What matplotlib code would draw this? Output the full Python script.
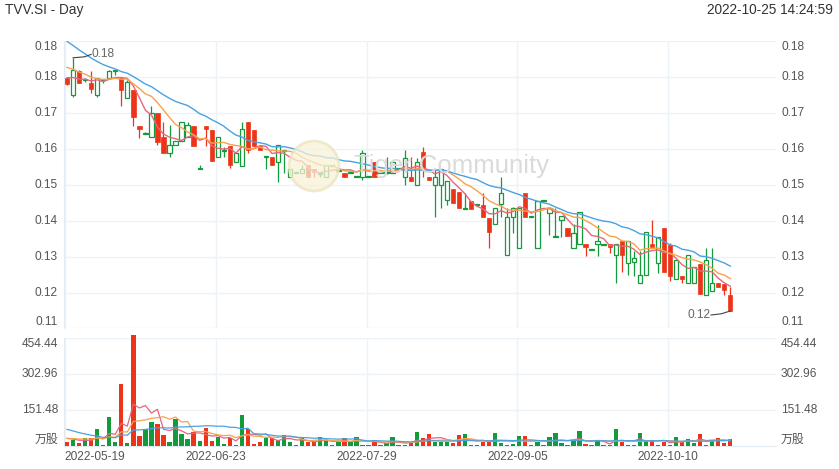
import numpy as np
import pandas as pd
import matplotlib
matplotlib.use("Agg")
import matplotlib.pyplot as plt
from matplotlib.patches import Rectangle, Ellipse
from matplotlib import transforms

plt.rcParams['font.family'] = ['Liberation Sans', 'Noto Sans CJK SC', 'DejaVu Sans']

# ---------------- data ----------------
holidays = ['2022-07-11', '2022-08-09', '2022-10-24']
dates = [d for d in pd.bdate_range('2022-05-19', '2022-10-25') if d.strftime('%Y-%m-%d') not in holidays]

open_ = [0.1758, 0.1715, 0.1776, 0.1753, 0.1746, 0.1716, 0.1753, 0.1757, 0.1774, 0.1757,
         0.1707, 0.1728, 0.1638, 0.1618, 0.1609, 0.1669, 0.1609, 0.1569, 0.1589, 0.1600,
         0.1609, 0.1638, 0.1530, 0.1638, 0.1628, 0.1559, 0.1576, 0.1588, 0.1548, 0.1538,
         0.1648, 0.1628, 0.1588, 0.1559, 0.1559, 0.1548, 0.1576, 0.1510, 0.1520, 0.1521,
         0.1540, 0.1530, 0.1518, 0.1511, 0.1538, 0.1525, 0.1521, 0.1520, 0.1510, 0.1511,
         0.1510, 0.1548, 0.1520, 0.1520, 0.1521, 0.1530, 0.1511, 0.1511, 0.1490, 0.1573,
         0.1511, 0.1490, 0.1490, 0.1453, 0.1479, 0.1473, 0.1431, 0.1450, 0.1441, 0.1440,
         0.1408, 0.1392, 0.1442, 0.1315, 0.1411, 0.1332, 0.1469, 0.1410, 0.1332, 0.1449,
         0.1421, 0.1361, 0.1402, 0.1382, 0.1332, 0.1342, 0.1342, 0.1327, 0.1342, 0.1341,
         0.1342, 0.1314, 0.1351, 0.1294, 0.1298, 0.1244, 0.1265, 0.1343, 0.1294, 0.1382,
         0.1340, 0.1254, 0.1263, 0.1244, 0.1244, 0.1292, 0.1215, 0.1225, 0.1244, 0.1243,
         0.1215]
high = [0.1761, 0.1808, 0.1778, 0.1758, 0.1775, 0.1758, 0.1756, 0.1777, 0.1778, 0.1761,
        0.1753, 0.1728, 0.1638, 0.1623, 0.1688, 0.1669, 0.1647, 0.1640, 0.1600, 0.1648,
        0.1648, 0.1638, 0.1540, 0.1638, 0.1628, 0.1609, 0.1586, 0.1588, 0.1570, 0.1648,
        0.1648, 0.1628, 0.1588, 0.1560, 0.1559, 0.1590, 0.1578, 0.1529, 0.1522, 0.1540,
        0.1540, 0.1530, 0.1520, 0.1540, 0.1540, 0.1527, 0.1521, 0.1522, 0.1511, 0.1578,
        0.1511, 0.1548, 0.1521, 0.1561, 0.1548, 0.1532, 0.1578, 0.1560, 0.1558, 0.1585,
        0.1511, 0.1530, 0.1530, 0.1500, 0.1479, 0.1473, 0.1469, 0.1450, 0.1443, 0.1469,
        0.1408, 0.1432, 0.1509, 0.1432, 0.1436, 0.1432, 0.1469, 0.1412, 0.1451, 0.1451,
        0.1432, 0.1432, 0.1412, 0.1382, 0.1393, 0.1422, 0.1342, 0.1329, 0.1391, 0.1343,
        0.1342, 0.1342, 0.1351, 0.1351, 0.1325, 0.1325, 0.1372, 0.1403, 0.1361, 0.1382,
        0.1345, 0.1303, 0.1263, 0.1315, 0.1286, 0.1292, 0.1332, 0.1332, 0.1244, 0.1243,
        0.1236]
low = [0.1740, 0.1709, 0.1745, 0.1748, 0.1719, 0.1709, 0.1745, 0.1757, 0.1765, 0.1688,
       0.1707, 0.1638, 0.1608, 0.1618, 0.1609, 0.1590, 0.1571, 0.1561, 0.1589, 0.1600,
       0.1609, 0.1588, 0.1530, 0.1588, 0.1551, 0.1559, 0.1561, 0.1532, 0.1548, 0.1538,
       0.1571, 0.1588, 0.1578, 0.1530, 0.1540, 0.1498, 0.1521, 0.1510, 0.1520, 0.1521,
       0.1511, 0.1511, 0.1511, 0.1511, 0.1538, 0.1525, 0.1511, 0.1520, 0.1510, 0.1503,
       0.1510, 0.1511, 0.1520, 0.1518, 0.1521, 0.1530, 0.1490, 0.1501, 0.1490, 0.1510,
       0.1503, 0.1411, 0.1432, 0.1440, 0.1445, 0.1432, 0.1431, 0.1431, 0.1441, 0.1411,
       0.1333, 0.1392, 0.1411, 0.1315, 0.1369, 0.1332, 0.1411, 0.1410, 0.1332, 0.1449,
       0.1364, 0.1361, 0.1361, 0.1363, 0.1332, 0.1342, 0.1313, 0.1327, 0.1313, 0.1341,
       0.1320, 0.1244, 0.1273, 0.1265, 0.1263, 0.1244, 0.1265, 0.1334, 0.1271, 0.1273,
       0.1250, 0.1254, 0.1244, 0.1244, 0.1244, 0.1217, 0.1215, 0.1225, 0.1236, 0.1215,
       0.1175]
close = [0.1743, 0.1778, 0.1746, 0.1755, 0.1729, 0.1757, 0.1755, 0.1776, 0.1777, 0.1728,
         0.1748, 0.1659, 0.1629, 0.1620, 0.1669, 0.1598, 0.1571, 0.1590, 0.1600, 0.1648,
         0.1640, 0.1588, 0.1532, 0.1629, 0.1551, 0.1609, 0.1578, 0.1541, 0.1570, 0.1629,
         0.1578, 0.1588, 0.1578, 0.1560, 0.1540, 0.1590, 0.1578, 0.1529, 0.1522, 0.1529,
         0.1511, 0.1522, 0.1520, 0.1540, 0.1540, 0.1527, 0.1511, 0.1522, 0.1511, 0.1569,
         0.1511, 0.1511, 0.1521, 0.1522, 0.1548, 0.1532, 0.1557, 0.1501, 0.1548, 0.1528,
         0.1503, 0.1509, 0.1530, 0.1500, 0.1445, 0.1432, 0.1433, 0.1431, 0.1443, 0.1411,
         0.1373, 0.1432, 0.1471, 0.1411, 0.1432, 0.1432, 0.1411, 0.1412, 0.1451, 0.1451,
         0.1432, 0.1363, 0.1412, 0.1363, 0.1371, 0.1422, 0.1334, 0.1329, 0.1351, 0.1343,
         0.1334, 0.1342, 0.1314, 0.1351, 0.1308, 0.1265, 0.1372, 0.1334, 0.1361, 0.1273,
         0.1263, 0.1303, 0.1254, 0.1315, 0.1286, 0.1217, 0.1302, 0.1244, 0.1236, 0.1228,
         0.1175]
volume = [18, 25, 11, 35, 32, 72, 4, 121, 18, 261,
          14, 465, 42, 70, 101, 94, 45, 15, 112, 52,
          31, 59, 22, 77, 21, 39, 8, 35, 4, 132,
          70, 7, 15, 32, 34, 25, 46, 18, 5, 32,
          15, 17, 39, 21, 5, 18, 32, 15, 39, 6,
          6, 25, 4, 11, 36, 5, 6, 11, 60, 32,
          49, 18, 18, 18, 11, 45, 49, 4, 4, 18,
          18, 53, 14, 5, 8, 42, 42, 5, 15, 5,
          39, 53, 14, 4, 21, 62, 7, 5, 21, 4,
          6, 72, 18, 4, 6, 53, 21, 21, 6, 18,
          4, 39, 15, 29, 14, 50, 6, 25, 32, 14,
          29]
# closes / volumes of the 19 sessions before the window (feed the moving averages)
prior_close = [0.198, 0.197, 0.195, 0.194, 0.193, 0.191, 0.189, 0.188, 0.186, 0.183,
               0.1825, 0.1815, 0.181, 0.180, 0.180, 0.1775, 0.1765, 0.1757, 0.175]
prior_volume = [160, 150, 150, 140, 130, 130, 120, 40, 30, 30,
                30, 35, 30, 35, 30, 40, 35, 37, 30]
ma_periods = [5, 10, 20]

price_tick_values = [0.185, 0.176, 0.167, 0.158, 0.149, 0.140, 0.131, 0.122, 0.11325]
price_tick_labels = ['0.18', '0.18', '0.17', '0.16', '0.15', '0.14', '0.13', '0.12', '0.11']
vol_tick_values = [454.44, 302.96, 151.48, 0]
vol_tick_labels = ['454.44', '302.96', '151.48', '万股']
date_label_step = 25

# ---------------- style ----------------
W, H = 839, 469
RED = '#ec3418'
GREEN = '#139a3a'
MA_COLORS = ['#e8657f', '#f7a24c', '#4aa2e0']
GRID = '#ebf2f8'
TXT = '#555555'
FS = 8.6

fig = plt.figure(figsize=(W / 100, H / 100), dpi=100)
fig.patch.set_facecolor('white')

def fy(y):
    return 1 - y / H

x_left, x_right = 64, 776
ax = fig.add_axes([x_left / W, fy(328), (x_right - x_left) / W, (328 - 41) / H])
axv = fig.add_axes([x_left / W, fy(446), (x_right - x_left) / W, (446 - 338) / H])

n = len(close)
xs = np.arange(n)
xlim = (-0.5, 117.58)
for a in (ax, axv):
    a.set_xlim(*xlim)
    a.set_xticks([])
    a.set_yticks([])
    for s in a.spines.values():
        s.set_visible(False)
    a.spines['left'].set_visible(True)
    a.spines['left'].set_color('#e3ebf2')
    a.set_facecolor('none')
axv.spines['bottom'].set_visible(True)
axv.spines['bottom'].set_color('#e3ebf2')

ax.set_ylim(price_tick_values[-1], price_tick_values[0])
axv.set_ylim(0, vol_tick_values[0])

# grids
grid_idx = np.arange(0, n, date_label_step)
for a in (ax, axv):
    for gi in grid_idx:
        a.axvline(gi - 0.3, color=GRID, lw=1.0, zorder=0)
for v in price_tick_values:
    ax.axhline(v, color=GRID, lw=1.0, zorder=0)
for v in vol_tick_values[:-1]:
    axv.axhline(v, color=GRID, lw=1.0, zorder=0)

# watermark
fig.patches.append(Ellipse((314 / W, fy(166)), 50 / W, 50 / H, transform=fig.transFigure,
                           facecolor='#f8f2d8', edgecolor='#ece3c0', lw=2, zorder=0.2, alpha=0.75))
fig.text(354 / W, fy(166), 'Tiger Community', fontsize=18.5, color='#dadada',
         va='center', ha='left', zorder=0.3)

# candles
bw = 0.72
for i in xs:
    o, h, l, c = open_[i], high[i], low[i], close[i]
    up = c >= o
    col = GREEN if up else RED
    top, bot = max(o, c), min(o, c)
    ht = max(top - bot, 0.00025)
    if up:
        ax.plot([i, i], [top, h], color=col, lw=0.9, zorder=3, solid_capstyle='butt')
        ax.plot([i, i], [l, bot], color=col, lw=0.9, zorder=3, solid_capstyle='butt')
        ax.add_patch(Rectangle((i - bw / 2, bot), bw, ht, facecolor='white',
                               edgecolor=col, lw=0.9, zorder=4))
    else:
        ax.plot([i, i], [l, h], color=col, lw=0.9, zorder=3, solid_capstyle='butt')
        ax.add_patch(Rectangle((i - bw / 2, bot), bw, ht, facecolor=col,
                               edgecolor=col, lw=0.5, zorder=4))

# price moving averages
full_close = pd.Series(prior_close + close)
for p, colr in zip(ma_periods, MA_COLORS):
    ma = full_close.rolling(p).mean().values[len(prior_close):]
    ax.plot(xs, ma, color=colr, lw=1.0, zorder=5)

# volume bars
vcol = [GREEN if close[i] >= open_[i] else RED for i in xs]
axv.bar(xs, volume, width=bw, color=vcol, zorder=3, clip_on=False)
full_vol = pd.Series(prior_volume + volume, dtype=float)
for p, colr in zip(ma_periods, MA_COLORS):
    ma = full_vol.rolling(p).mean().values[len(prior_volume):]
    axv.plot(xs, ma, color=colr, lw=0.9, zorder=5)

# high / low markers
ih = int(np.argmax(high))
il = int(np.argmin(low))
hv, lv = high[ih], low[il]
ax.plot([ih, ih + 1.9, ih + 3.0], [hv, hv + 0.00025, hv + 0.00085], color='#444444', lw=0.8, zorder=6)
ax.text(ih + 3.1, hv + 0.00085, f'{hv:.2f}', fontsize=FS, color='#666666', va='center', ha='left', zorder=6)
ax.plot([il, il - 1.5, il - 3.2], [lv, lv - 0.0007, lv - 0.001], color='#444444', lw=0.8, zorder=6)
ax.text(il - 3.3, lv - 0.001, f'{lv:.2f}', fontsize=FS, color='#666666', va='center', ha='right', zorder=6)

# y labels
def side_labels(a, values, labels):
    lo, hi = a.get_ylim()
    tl = transforms.blended_transform_factory(fig.transFigure, a.transData)
    for v, lab in zip(values, labels):
        va = 'center'
        if np.isclose(v, hi):
            va = 'top'
        elif np.isclose(v, lo):
            va = 'bottom'
        fig.text(58 / W, v, lab, transform=tl, ha='right', va=va, fontsize=FS, color=TXT)
        fig.text(781 / W, v, lab, transform=tl, ha='left', va=va, fontsize=FS, color=TXT)

side_labels(ax, price_tick_values, price_tick_labels)
side_labels(axv, vol_tick_values, vol_tick_labels)

# date labels
tx = transforms.blended_transform_factory(axv.transData, fig.transFigure)
for k, gi in enumerate(grid_idx):
    lab = dates[gi].strftime('%Y-%m-%d')
    if k == 0:
        fig.text(-0.45, fy(457), lab, transform=tx, ha='left', va='center', fontsize=FS, color=TXT)
    else:
        fig.text(gi - 0.3, fy(457), lab, transform=tx, ha='center', va='center', fontsize=FS, color=TXT)

# header
fig.text(5 / W, fy(10), 'TVV.SI - Day', fontsize=9.8, color='#333333', va='center', ha='left')
fig.text(833 / W, fy(10), dates[-1].strftime('%Y-%m-%d') + ' 14:24:59', fontsize=9.8,
         color='#333333', va='center', ha='right')

fig.savefig('out.png', dpi=100, facecolor='white')
